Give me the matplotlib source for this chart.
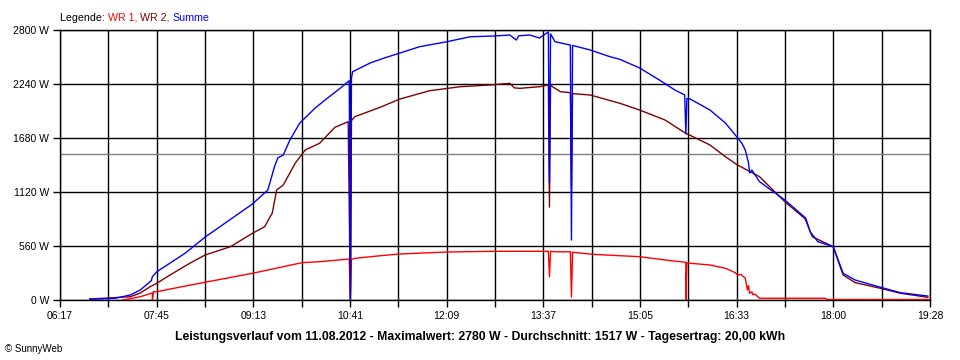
import matplotlib
matplotlib.use("Agg")
import matplotlib.pyplot as plt
from matplotlib.offsetbox import TextArea, HPacker, AnchoredOffsetbox
import numpy as np

plt.rcParams['font.family'] = ['Liberation Sans', 'DejaVu Sans']

# Leistungsverlauf 11.08.2012 (in W)
wr1_t = ["07:14", "07:30", "07:41", "07:41", "07:42", "07:45", "08:11", "08:29", "09:12",
         "09:57", "10:13", "10:40", "10:41", "10:42", "10:45", "11:08", "11:26", "12:09",
         "12:52", "13:33", "13:41", "13:42", "13:43", "13:47", "14:01", "14:02", "14:03",
         "14:21", "15:04", "15:32", "15:46", "15:46", "15:47", "15:50", "16:08", "16:22",
         "16:31", "16:33", "16:36", "16:40", "16:42", "16:43", "16:44", "16:46", "16:47",
         "16:49", "16:53", "17:53", "17:54", "19:28"]
wr1_w = [0, 34, 73, 0, 86, 86, 145, 184, 277,
         387, 397, 425, 30, 420, 432, 459, 477, 498,
         505, 505, 505, 240, 505, 500, 500, 31, 495,
         474, 449, 408, 391, 0, 385, 381, 363, 329,
         283, 259, 265, 228, 104, 150, 69, 86, 55,
         60, 18, 18, 5, 5]

wr2_t = ["06:44", "07:21", "07:30", "07:39", "07:45", "07:57", "08:15", "08:29", "08:52",
         "09:12", "09:23", "09:30", "09:34", "09:40", "09:51", "10:00", "10:13", "10:27",
         "10:39", "10:41", "10:42", "10:45", "11:08", "11:26", "11:53", "12:21", "12:48",
         "13:06", "13:10", "13:15", "13:33", "13:41", "13:42", "13:43", "13:52", "14:01",
         "14:02", "14:03", "14:19", "14:46", "15:04", "15:27", "15:45", "16:08", "16:22",
         "16:33", "16:53", "17:16", "17:34", "17:36", "17:41", "18:00", "18:09", "18:20",
         "18:43", "19:01", "19:26"]
wr2_w = [10, 34, 73, 138, 173, 259, 381, 467, 553,
         692, 760, 902, 1141, 1193, 1421, 1556, 1625, 1791,
         1849, 0, 1860, 1901, 1998, 2084, 2170, 2212, 2230,
         2247, 2200, 2195, 2212, 2230, 964, 2225, 2160, 2150,
         1172, 2140, 2126, 2040, 1970, 1867, 1735, 1607, 1486,
         1400, 1279, 1019, 847, 800, 656, 553, 259, 180,
         121, 70, 28]

summe_t = ["06:44", "07:07", "07:21", "07:30", "07:40", "07:41", "07:45", "08:11", "08:29",
           "09:12", "09:26", "09:32", "09:35", "09:40", "09:46", "09:55", "10:09", "10:18",
           "10:32", "10:40", "10:41", "10:42", "10:43", "10:59", "11:12", "11:26", "11:44",
           "12:09", "12:30", "12:52", "13:06", "13:12", "13:14", "13:24", "13:33", "13:41",
           "13:42", "13:43", "13:47", "14:01", "14:02", "14:03", "14:05", "14:19", "14:37",
           "14:46", "15:04", "15:22", "15:36", "15:45", "15:46", "15:47", "15:50", "16:08",
           "16:22", "16:31", "16:37", "16:40", "16:43", "16:44", "16:46", "16:53", "17:16",
           "17:35", "17:39", "17:46", "18:00", "18:09", "18:20", "18:43", "19:01", "19:26"]
summe_w = [7, 18, 52, 104, 200, 242, 293, 487, 653,
           996, 1141, 1382, 1473, 1504, 1659, 1835, 1991, 2074,
           2198, 2274, 0, 2300, 2367, 2458, 2510, 2561, 2627,
           2679, 2730, 2738, 2748, 2696, 2740, 2748, 2717, 2780,
           1213, 2760, 2679, 2644, 622, 2640, 2634, 2593, 2523,
           2496, 2406, 2281, 2178, 2126, 1721, 2090, 2084, 1970,
           1835, 1711, 1625, 1556, 1421, 1317, 1348, 1227, 1037,
           850, 708, 605, 553, 277, 207, 132, 76, 41]

x_labels = ["06:17", "07:45", "09:13", "10:41", "12:09", "13:37", "15:05", "16:33", "18:00", "19:28"]
y_ticks = [0, 560, 1120, 1680, 2240, 2800]
mittel = 1517
titel = ("Leistungsverlauf vom 11.08.2012 - Maximalwert: 2780 W - "
         "Durchschnitt: 1517 W - Tagesertrag: 20,00 kWh")


def minuten(liste):
    return np.array([int(s[:2]) * 60 + int(s[3:]) for s in liste])


fig = plt.figure(figsize=(9.6, 3.6), dpi=100)
ax = fig.add_axes([60 / 960, 1 - 300 / 360, 870 / 960, 270 / 360])

t0, t1 = 6 * 60 + 17, 19 * 60 + 28
ax.set_xlim(t0, t1)
ax.set_ylim(0, 2800)

# Gitter
grid_x = np.linspace(t0, t1, 19)
for gx in grid_x:
    ax.axvline(gx, color='black', lw=1.0, zorder=1)
for gy in y_ticks:
    ax.axhline(gy, color='black', lw=1.0, zorder=1)
ax.axhline(mittel, color='#808080', lw=1.0, zorder=1)

ax.plot(minuten(wr1_t), wr1_w, color='#ff0000', lw=1.0, zorder=3)
ax.plot(minuten(wr2_t), wr2_w, color='#800000', lw=1.0, zorder=4)
ax.plot(minuten(summe_t), summe_w, color='#0000ff', lw=1.0, zorder=5)

ax.set_xticks(grid_x)
ax.set_xticklabels([x_labels[i // 2] if i % 2 == 0 else "" for i in range(19)], fontsize=7.5)
ax.set_yticks(y_ticks)
ax.set_yticklabels([f"{v} W" for v in y_ticks], fontsize=7.5)
ax.tick_params(length=5, width=1.0, color='black', pad=3)
for s in ax.spines.values():
    s.set_linewidth(1.0)
    s.set_color('black')

# Legende oben
teile = [("Legende: ", 'black'), ("WR 1, ", '#ff0000'), ("WR 2, ", '#800000'), ("Summe", '#0000ff')]
boxen = [TextArea(t, textprops=dict(color=c, fontsize=7.7)) for t, c in teile]
pack = HPacker(children=boxen, align='baseline', pad=0, sep=0)
anch = AnchoredOffsetbox(loc='lower left', child=pack, frameon=False, pad=0, borderpad=0,
                         bbox_to_anchor=(60 / 960, 1 - 23 / 360), bbox_transform=fig.transFigure)
fig.add_artist(anch)

fig.text(480 / 960, 1 - 337 / 360, titel, ha='center', va='center', fontsize=8.8, fontweight='bold')
fig.text(5 / 960, 1 - 349 / 360, "© SunnyWeb", ha='left', va='center', fontsize=7)

fig.savefig("out.png", dpi=100, facecolor='white')
